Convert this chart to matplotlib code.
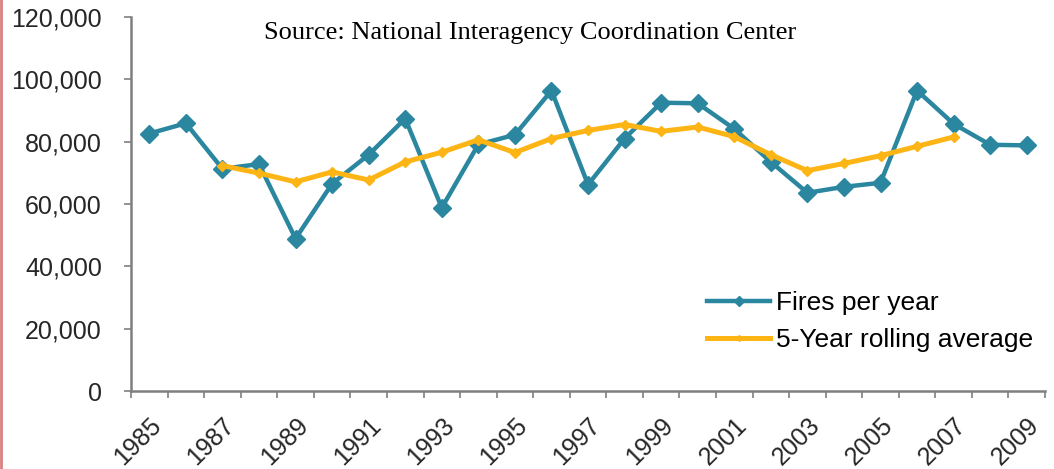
import matplotlib.pyplot as plt
from matplotlib.lines import Line2D
from matplotlib.ticker import FuncFormatter

# 데이터
years = list(range(1985, 2010))
fires = [82600, 85900, 71300, 72800, 48900, 66500, 75800, 87400, 58800, 79100,
         82200, 96400, 66200, 81000, 92500, 92300, 84100, 73500, 63600, 65500,
         66800, 96400, 85700, 79000, 78800]
avg_years = list(range(1987, 2008))
rolling = [72300, 69900, 67100, 70300, 67700, 73500, 76600, 80600, 76500, 81000,
           83600, 85500, 83300, 84700, 81600, 75800, 70700, 73000, 75500, 78500,
           81500]
tick_labels = [str(y) for y in years[::2]]

blue = '#2a879f'
orange = '#fdb515'
axis_gray = '#7f7f7f'

plt.rcParams['font.family'] = ['Liberation Sans', 'DejaVu Sans']

fig = plt.figure(figsize=(10.54, 4.69), dpi=100)
ax = fig.add_axes([0.1243, 0.1663, 0.9915 - 0.1243, 0.9638 - 0.1663])

xf = [y - 1985 for y in years]
xa = [y - 1985 for y in avg_years]

ax.plot(xf, fires, color=blue, lw=3.2, marker='D', ms=9, mec=blue, mfc=blue,
        label='Fires per year', zorder=3)
ax.plot(xa, rolling, color=orange, lw=3.6, marker='D', ms=5, mec=orange, mfc=orange,
        label='5-Year rolling average', zorder=4)

ax.set_xlim(-0.5, 24.5)
ax.set_ylim(0, 120000)
ax.set_yticks(range(0, 120001, 20000))
ax.yaxis.set_major_formatter(FuncFormatter(lambda v, p: f'{int(v):,}'))

ax.set_xticks(range(0, 25, 2))
ax.set_xticklabels(tick_labels, rotation=45, ha='right', va='top',
                   rotation_mode='anchor')
ax.set_xticks([i - 0.5 for i in range(26)], minor=True)
ax.tick_params(axis='x', which='major', length=0, pad=16)
ax.tick_params(axis='x', which='minor', length=5, width=1.2, color=axis_gray,
               direction='out')
ax.tick_params(axis='y', length=5, width=1.2, color=axis_gray, pad=16)
ax.tick_params(labelsize=18, labelcolor='#262626')

for s in ['top', 'right']:
    ax.spines[s].set_visible(False)
for s in ['left', 'bottom']:
    ax.spines[s].set_color(axis_gray)
    ax.spines[s].set_linewidth(1.8)

ax.legend(loc='upper left', bbox_to_anchor=(707 / 1054, 1 - 291 / 469),
          bbox_transform=fig.transFigure, frameon=False, fontsize=19,
          handlelength=2.4, handletextpad=0.2, labelspacing=0.5,
          borderpad=0, borderaxespad=0, markerscale=0.6)

fig.text(0.503, 0.93, 'Source: National Interagency Coordination Center',
         ha='center', va='center', fontsize=19, family=['Liberation Serif', 'DejaVu Serif'])

# 왼쪽 가장자리의 붉은 선
fig.add_artist(Line2D([0.001, 0.001], [0, 1], transform=fig.transFigure,
                      color='#d98080', lw=2))

fig.savefig('out.png', dpi=100)
